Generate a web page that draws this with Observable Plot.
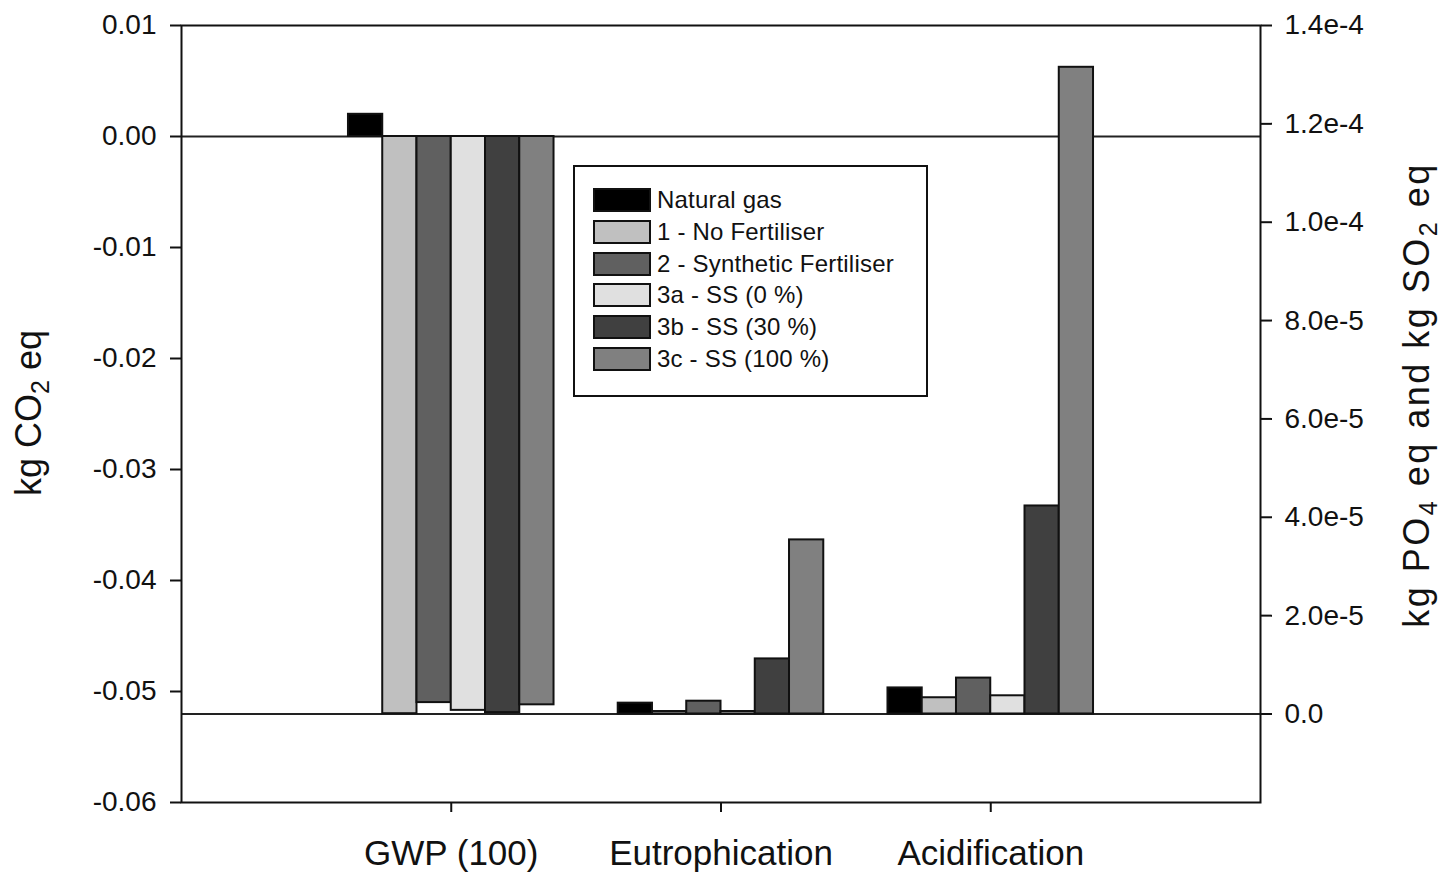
<!DOCTYPE html>
<html><head><meta charset="utf-8">
<script src="https://cdn.jsdelivr.net/npm/d3@7"></script>
<script src="https://cdn.jsdelivr.net/npm/@observablehq/plot@0.6"></script>
<style>
html,body{margin:0;padding:0;background:#fff;}
#wrap{position:relative;width:1446px;height:873px;font-family:"Liberation Sans",Arial,sans-serif;}
#legend{position:absolute;left:573px;top:165px;width:351px;height:228px;border:2px solid #111;background:#fff;}
#legend .row{position:absolute;left:18px;height:32px;display:flex;align-items:center;}
#legend .sw{width:58px;height:24px;box-sizing:border-box;border:2px solid #111;}
#legend .lab{margin-left:6px;font-size:24px;color:#111;white-space:nowrap;letter-spacing:0.2px;}
</style>
</head><body>
<div id="wrap"><div id="legend"></div></div>
<script>
const categories = ["GWP (100)", "Eutrophication", "Acidification"];
const series = ["Natural gas", "1 - No Fertiliser", "2 - Synthetic Fertiliser", "3a - SS (0 %)", "3b - SS (30 %)", "3c - SS (100 %)"];
// left axis (kg CO2 eq)
const gwp = [0.0020, -0.0520, -0.0510, -0.0517, -0.0519, -0.0512];
// right axis (kg PO4 eq / kg SO2 eq)
const eutrophication = [2.2e-6, 0.5e-6, 2.6e-6, 0.5e-6, 1.12e-5, 3.54e-5];
const acidification = [5.3e-6, 3.3e-6, 7.3e-6, 3.7e-6, 4.23e-5, 1.315e-4];
const seriesColors = ["#000000", "#c0c0c0", "#606060", "#e0e0e0", "#404040", "#808080"];
const leftTicks = [-0.06, -0.05, -0.04, -0.03, -0.02, -0.01, 0.00, 0.01];
const rightTicks = [0, 2e-5, 4e-5, 6e-5, 8e-5, 1.0e-4, 1.2e-4, 1.4e-4];
const rightTickLabels = ["0.0", "2.0e-5", "4.0e-5", "6.0e-5", "8.0e-5", "1.0e-4", "1.2e-4", "1.4e-4"];
const leftDomain = [-0.06, 0.01];
const rightDomain = [-1.8e-5, 1.4e-4];

const toLeft = r => leftDomain[0] + (r - rightDomain[0]) * (leftDomain[1] - leftDomain[0]) / (rightDomain[1] - rightDomain[0]);
const valuesByCat = [gwp, eutrophication, acidification];
const axisOfCat = ["left", "right", "right"];
const BW = 0.127;
const rows = [];
categories.forEach((c, ci) => series.forEach((s, si) => {
  const v = valuesByCat[ci][si];
  const right = axisOfCat[ci] === "right";
  rows.push({
    category: c, series: s, value: v,
    x1: ci + 1 + (si - series.length / 2) * BW,
    x2: ci + 1 + (si - series.length / 2 + 1) * BW,
    y1: right ? toLeft(0) : 0,
    y2: right ? toLeft(v) : v
  });
}));
const labelMap = new Map(rightTicks.map((t, i) => [toLeft(t), rightTickLabels[i]]));

const chart = Plot.plot({
  width: 1446, height: 873,
  marginLeft: 181, marginRight: 186, marginTop: 25, marginBottom: 71,
  style: {fontFamily: "Liberation Sans, Arial, sans-serif", background: "#fff", color: "#111"},
  x: {domain: [0, categories.length + 1], axis: null},
  y: {domain: leftDomain, axis: null},
  color: {domain: series, range: seriesColors},
  marks: [
    Plot.ruleY([0], {stroke: "#222", strokeWidth: 2}),
    Plot.ruleY([toLeft(0)], {stroke: "#222", strokeWidth: 2}),
    Plot.rect(rows, {x1: "x1", x2: "x2", y1: "y1", y2: "y2", fill: "series", stroke: "#111", strokeWidth: 2}),
    Plot.frame({stroke: "#111", strokeWidth: 2}),
    Plot.axisY(leftTicks, {anchor: "left", tickSize: 11, tickPadding: 14, tickFormat: d => d.toFixed(2), fontSize: 28, strokeWidth: 2, label: null}),
    Plot.axisY(rightTicks.map(toLeft), {anchor: "right", tickSize: 11, tickPadding: 13, tickFormat: d => labelMap.get(d), fontSize: 28, strokeWidth: 2, label: null}),
    Plot.axisX(categories.map((c, i) => i + 1), {anchor: "bottom", tickSize: 10, tickPadding: 28, tickFormat: d => categories[d - 1], fontSize: 35, strokeWidth: 2, label: null})
  ]
});
document.getElementById("wrap").prepend(chart);

const svg = d3.select(chart);
const lt = svg.append("text").attr("transform", "translate(41,413) rotate(-90)").attr("text-anchor", "middle").attr("font-size", 36).attr("fill", "#111");
lt.append("tspan").text("kg CO");
lt.append("tspan").text("2").attr("font-size", 25).attr("dy", 8);
lt.append("tspan").text(" eq").attr("dy", -8);

const rt = svg.append("text").attr("transform", "translate(1429,395) rotate(-90)").attr("text-anchor", "middle").attr("font-size", 36).attr("letter-spacing", 2.5).attr("fill", "#111");
rt.append("tspan").text("kg PO");
rt.append("tspan").text("4").attr("font-size", 25).attr("dy", 8);
rt.append("tspan").text(" eq and kg SO").attr("dy", -8);
rt.append("tspan").text("2").attr("font-size", 25).attr("dy", 8);
rt.append("tspan").text(" eq").attr("dy", -8);

const legend = d3.select("#legend");
series.forEach((s, i) => {
  const row = legend.append("div").attr("class", "row").style("top", (17 + i * 31.8) + "px");
  row.append("div").attr("class", "sw").style("background", seriesColors[i]);
  row.append("div").attr("class", "lab").text(s);
});
</script>
</body></html>
